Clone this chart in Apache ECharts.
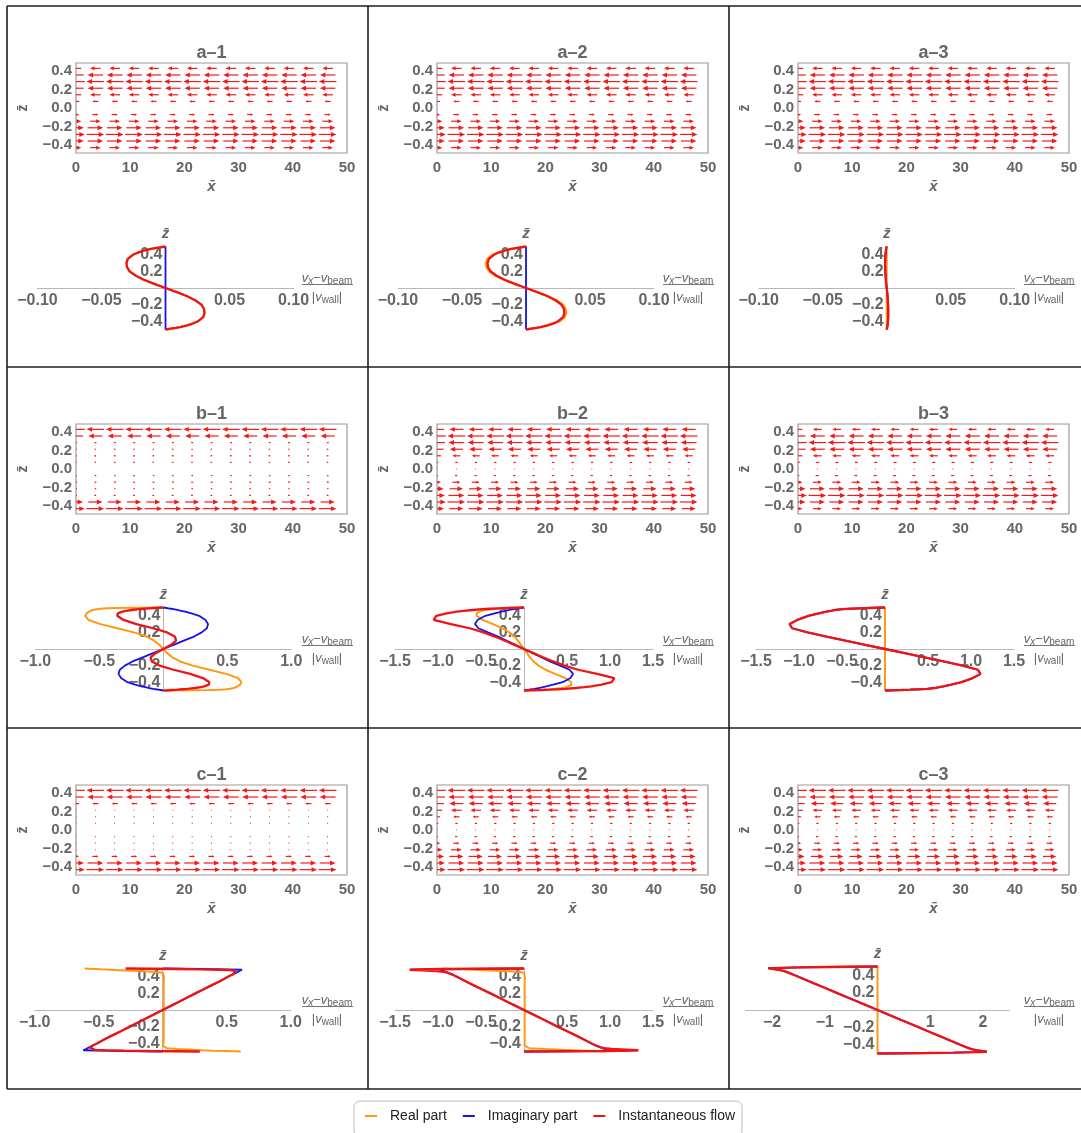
<!DOCTYPE html>
<html><head><meta charset="utf-8">
<script src="https://cdn.jsdelivr.net/npm/echarts@6/dist/echarts.min.js"></script>
<style>html,body{margin:0;padding:0;background:#fff}#chart{width:1081px;height:1133px}</style>
</head><body><div id="chart"></div>
<script>
// ---------------- DATA ----------------
const panelTitles = ['a–1','a–2','a–3','b–1','b–2','b–3','c–1','c–2','c–3'];
const seriesNames = ['Real part','Imaginary part','Instantaneous flow'];

// quiver (vector) plots: grid positions and signed relative flow per row
const quiverX = [0, 3.571, 7.143, 10.714, 14.286, 17.857, 21.429, 25, 28.571, 32.143, 35.714, 39.286, 42.857, 46.429];
const quiverZ = [0.5, 0.429, 0.357, 0.286, 0.214, 0.143, 0.071, 0, -0.071, -0.143, -0.214, -0.286, -0.357, -0.429, -0.5];
const quiverA1 = [0, -0.6, -0.88, -1.0, -0.88, -0.6, -0.35, 0, 0.35, 0.6, 0.88, 1.0, 0.88, 0.6, 0];
const quiverA2 = [0, -0.6, -0.88, -1.0, -0.88, -0.6, -0.35, 0, 0.35, 0.6, 0.88, 1.0, 0.88, 0.6, 0];
const quiverA3 = [0, -0.6, -0.88, -1.0, -0.88, -0.6, -0.35, 0, 0.35, 0.6, 0.88, 1.0, 0.88, 0.6, 0];
const quiverB1 = [0, -1.0, -0.8, -0.12, 0.1, 0.12, 0.1, 0, -0.1, -0.12, -0.1, 0.12, 0.8, 1.0, 0];
const quiverB2 = [0, -0.8, -1.0, -0.9, -0.75, -0.45, -0.15, 0.05, 0.15, 0.45, 0.75, 0.9, 1.0, 0.8, 0];
const quiverB3 = [0, -0.5, -0.85, -1.0, -0.85, -0.5, -0.2, 0.05, 0.2, 0.5, 0.85, 1.0, 0.85, 0.5, 0];
const quiverC1 = [0, -1.0, -0.9, -0.35, -0.05, -0.05, -0.05, 0, 0.05, 0.05, 0.05, 0.35, 0.9, 1.0, 0];
const quiverC2 = [0, -1.0, -0.9, -0.8, -0.6, -0.35, -0.15, 0.05, 0.15, 0.35, 0.6, 0.8, 0.9, 1.0, 0];
const quiverC3 = [0, -1.0, -0.9, -0.75, -0.55, -0.35, -0.15, 0.05, 0.15, 0.35, 0.55, 0.75, 0.9, 1.0, 0];

// profile plots: z positions and (v_x - v_beam)/|v_wall| values
const profileZ = [0.5, 0.497, 0.494, 0.49, 0.485, 0.48, 0.47, 0.46, 0.45, 0.43, 0.4, 0.35, 0.3, 0.25, 0.2, 0.15, 0.1, 0.05, 0,
  -0.05, -0.1, -0.15, -0.2, -0.25, -0.3, -0.35, -0.4, -0.43, -0.45, -0.46, -0.47, -0.48, -0.485, -0.49, -0.494, -0.497, -0.5];
const zeroProfile = [0,0,0,0,0,0,0,0,0,0,0,0,0,0,0,0,0,0,0,0,0,0,0,0,0,0,0,0,0,0,0,0,0,0,0,0,0];

const a1Real = [0, -0.0012, -0.0024, -0.004, -0.006, -0.008, -0.0115, -0.0145, -0.017, -0.021, -0.0255, -0.0295, -0.0305, -0.030, -0.028, -0.0235, -0.017, -0.0088, 0,
  0.0088, 0.017, 0.0235, 0.028, 0.030, 0.0305, 0.0295, 0.0255, 0.021, 0.017, 0.0145, 0.0115, 0.008, 0.006, 0.004, 0.0024, 0.0012, 0];
const a1Imag = zeroProfile;
const a1Inst = [0, -0.0012, -0.0024, -0.004, -0.006, -0.008, -0.0115, -0.0145, -0.017, -0.021, -0.0255, -0.0295, -0.0305, -0.030, -0.028, -0.0235, -0.017, -0.0088, 0,
  0.0088, 0.017, 0.0235, 0.028, 0.030, 0.0305, 0.0295, 0.0255, 0.021, 0.017, 0.0145, 0.0115, 0.008, 0.006, 0.004, 0.0024, 0.0012, 0];

const a2Real = [0, -0.0013, -0.0025, -0.0042, -0.0063, -0.0084, -0.012, -0.015, -0.0177, -0.022, -0.0266, -0.0305, -0.0315, -0.031, -0.029, -0.0245, -0.0177, -0.0092, 0,
  0.0092, 0.0177, 0.0245, 0.029, 0.031, 0.0315, 0.0305, 0.0266, 0.022, 0.0177, 0.015, 0.012, 0.0084, 0.0063, 0.0042, 0.0025, 0.0013, 0];
const a2Imag = zeroProfile;
const a2Inst = [0, -0.0012, -0.0024, -0.004, -0.006, -0.008, -0.0113, -0.0142, -0.0167, -0.0207, -0.0251, -0.029, -0.030, -0.0296, -0.0276, -0.0232, -0.0168, -0.0087, 0,
  0.0087, 0.0168, 0.0232, 0.0276, 0.0296, 0.030, 0.029, 0.0251, 0.0207, 0.0167, 0.0142, 0.0113, 0.008, 0.006, 0.004, 0.0024, 0.0012, 0];

const a3Real = zeroProfile;
const a3Imag = [0, 0, -0.0001, -0.0002, -0.0002, -0.0003, -0.0005, -0.0006, -0.0007, -0.0008, -0.001, -0.0012, -0.0012, -0.0012, -0.0011, -0.0009, -0.0007, -0.0004, 0,
  0.0004, 0.0007, 0.0009, 0.0011, 0.0012, 0.0012, 0.0012, 0.001, 0.0008, 0.0007, 0.0006, 0.0005, 0.0003, 0.0002, 0.0002, 0.0001, 0, 0];
const a3Inst = [0, 0, -0.0001, -0.0002, -0.0002, -0.0003, -0.0005, -0.0006, -0.0007, -0.0008, -0.001, -0.0012, -0.0012, -0.0012, -0.0011, -0.0009, -0.0007, -0.0004, 0,
  0.0004, 0.0007, 0.0009, 0.0011, 0.0012, 0.0012, 0.0012, 0.001, 0.0008, 0.0007, 0.0006, 0.0005, 0.0003, 0.0002, 0.0002, 0.0001, 0, 0];

const b1Real = [0, -0.25, -0.36, -0.44, -0.49, -0.52, -0.55, -0.57, -0.585, -0.60, -0.61, -0.585, -0.49, -0.36, -0.23, -0.13, -0.07, -0.03, 0,
  0.03, 0.07, 0.13, 0.23, 0.36, 0.49, 0.585, 0.61, 0.60, 0.585, 0.57, 0.55, 0.52, 0.49, 0.44, 0.36, 0.25, 0];
const b1Imag = [0, 0.012, 0.024, 0.04, 0.06, 0.08, 0.11, 0.14, 0.17, 0.22, 0.28, 0.33, 0.35, 0.34, 0.30, 0.24, 0.16, 0.08, 0,
  -0.08, -0.16, -0.24, -0.30, -0.34, -0.35, -0.33, -0.28, -0.22, -0.17, -0.14, -0.11, -0.08, -0.06, -0.04, -0.024, -0.012, 0];
const b1Inst = [0, -0.04, -0.07, -0.11, -0.15, -0.19, -0.25, -0.29, -0.32, -0.355, -0.36, -0.31, -0.21, -0.08, 0.03, 0.09, 0.10, 0.06, 0,
  -0.06, -0.10, -0.09, -0.03, 0.08, 0.21, 0.31, 0.36, 0.355, 0.32, 0.29, 0.25, 0.19, 0.15, 0.11, 0.07, 0.04, 0];

const b2Real = [0, -0.08, -0.15, -0.22, -0.3, -0.36, -0.44, -0.49, -0.52, -0.55, -0.55, -0.48, -0.36, -0.25, -0.17, -0.11, -0.07, -0.035, 0,
  0.035, 0.07, 0.11, 0.17, 0.25, 0.36, 0.48, 0.55, 0.55, 0.52, 0.49, 0.44, 0.36, 0.3, 0.22, 0.15, 0.08, 0];
const b2Imag = [0, -0.02, -0.04, -0.06, -0.09, -0.12, -0.17, -0.22, -0.26, -0.34, -0.45, -0.54, -0.57, -0.53, -0.42, -0.3, -0.2, -0.1, 0,
  0.1, 0.2, 0.3, 0.42, 0.53, 0.57, 0.54, 0.45, 0.34, 0.26, 0.22, 0.17, 0.12, 0.09, 0.06, 0.04, 0.02, 0];
const b2Inst = [0, -0.1, -0.2, -0.3, -0.4, -0.48, -0.6, -0.7, -0.78, -0.9, -1.02, -1.05, -0.85, -0.63, -0.47, -0.34, -0.22, -0.11, 0,
  0.11, 0.22, 0.34, 0.47, 0.63, 0.85, 1.05, 1.02, 0.9, 0.78, 0.7, 0.6, 0.48, 0.4, 0.3, 0.2, 0.1, 0];

const b3Real = zeroProfile;
const b3Imag = [0, -0.1, -0.19, -0.29, -0.4, -0.49, -0.58, -0.63, -0.68, -0.77, -0.89, -1.02, -1.11, -1.08, -0.9, -0.68, -0.46, -0.23, 0,
  0.23, 0.46, 0.68, 0.9, 1.08, 1.11, 1.02, 0.89, 0.77, 0.68, 0.63, 0.58, 0.49, 0.4, 0.29, 0.19, 0.1, 0];
const b3Inst = [0, -0.1, -0.19, -0.29, -0.4, -0.49, -0.58, -0.63, -0.68, -0.77, -0.89, -1.02, -1.11, -1.08, -0.9, -0.68, -0.46, -0.23, 0,
  0.23, 0.46, 0.68, 0.9, 1.08, 1.11, 1.02, 0.89, 0.77, 0.68, 0.63, 0.58, 0.49, 0.4, 0.29, 0.19, 0.1, 0];

const c1Real = [-0.61, -0.57, -0.53, -0.48, -0.41, -0.34, -0.2, -0.08, 0.0, 0.015, 0.01, 0.008, 0.008, 0.008, 0.008, 0.008, 0.008, 0.008, 0.008,
  0.008, 0.008, 0.008, 0.008, 0.008, 0.008, 0.008, 0.006, 0.0, -0.012, 0.03, 0.12, 0.24, 0.31, 0.4, 0.49, 0.56, 0.61];
const c1Imag = [0, 0.15, 0.3, 0.5, 0.62, 0.61, 0.6, 0.59, 0.575, 0.55, 0.51, 0.45, 0.385, 0.32, 0.256, 0.192, 0.128, 0.064, 0,
  -0.064, -0.128, -0.192, -0.256, -0.32, -0.385, -0.45, -0.51, -0.55, -0.575, -0.59, -0.6, -0.61, -0.62, -0.5, -0.3, -0.15, 0];
const c1Inst = [-0.29, -0.1, 0.1, 0.3, 0.45, 0.53, 0.57, 0.575, 0.57, 0.55, 0.51, 0.45, 0.385, 0.32, 0.256, 0.192, 0.128, 0.064, 0,
  -0.064, -0.128, -0.192, -0.256, -0.32, -0.385, -0.45, -0.51, -0.55, -0.57, -0.575, -0.57, -0.53, -0.45, -0.3, -0.1, 0.1, 0.29];

const c2Real = [-0.94, -0.88, -0.8, -0.7, -0.58, -0.46, -0.25, -0.06, 0.0, 0.012, 0.01, 0.008, 0.008, 0.008, 0.008, 0.008, 0.008, 0.008, 0.008,
  0.008, 0.008, 0.008, 0.008, 0.008, 0.008, 0.008, 0.008, 0.005, 0.0, 0.06, 0.25, 0.46, 0.58, 0.7, 0.8, 0.88, 0.94];
const c2Imag = [0, -0.4, -0.7, -0.9, -0.98, -1.0, -0.97, -0.92, -0.89, -0.84, -0.78, -0.685, -0.59, -0.49, -0.39, -0.295, -0.196, -0.098, 0,
  0.098, 0.196, 0.295, 0.39, 0.49, 0.59, 0.685, 0.78, 0.84, 0.89, 0.92, 0.97, 1.0, 0.98, 0.9, 0.7, 0.4, 0];
const c2Inst = [0, -0.55, -0.95, -1.3, -1.33, -1.25, -1.02, -0.93, -0.89, -0.84, -0.78, -0.685, -0.59, -0.49, -0.39, -0.295, -0.196, -0.098, 0,
  0.098, 0.196, 0.295, 0.39, 0.49, 0.59, 0.685, 0.78, 0.84, 0.89, 0.93, 1.02, 1.25, 1.33, 1.3, 0.95, 0.55, 0];

const c3Real = zeroProfile;
const c3Imag = [0, -0.5, -0.95, -1.45, -1.85, -2.07, -1.97, -1.87, -1.78, -1.69, -1.57, -1.375, -1.18, -0.98, -0.785, -0.59, -0.39, -0.196, 0,
  0.196, 0.39, 0.59, 0.785, 0.98, 1.18, 1.375, 1.57, 1.69, 1.78, 1.87, 1.97, 2.07, 1.85, 1.45, 0.95, 0.5, 0];
const c3Inst = [0, -0.5, -0.95, -1.45, -1.85, -2.07, -1.97, -1.87, -1.78, -1.69, -1.57, -1.375, -1.18, -0.98, -0.785, -0.59, -0.39, -0.196, 0,
  0.196, 0.39, 0.59, 0.785, 0.98, 1.18, 1.375, 1.57, 1.69, 1.78, 1.87, 1.97, 2.07, 1.85, 1.45, 0.95, 0.5, 0];

// tick labels
const quiverXTicks = [0, 10, 20, 30, 40, 50];
const quiverZTicks = [-0.4, -0.2, 0, 0.2, 0.4];
const profileZTicks = [-0.4, -0.2, 0.2, 0.4];
const ticksSmall = [-0.1, -0.05, 0.05, 0.1];
const ticksOne = [-1, -0.5, 0.5, 1];
const ticksOneHalf = [-1.5, -1, -0.5, 0.5, 1, 1.5];
const ticksTwo = [-2, -1, 1, 2];

// ---------------- LAYOUT / STYLE ----------------
const FONT = "'Liberation Sans', Arial, Helvetica, sans-serif";
const GRAY = '#666';
const COLORS = ['#ff9914', '#1414ea', '#ee1414'];
const WIDTHS = [2, 1.8, 2.3];
const ARROW_COLOR = '#f01c1c';
const ARROW_UNITS = 3.25; // x-units of the longest arrow

const panelData = [
  {quiver: quiverA1, curves: [a1Real, a1Imag, a1Inst], ticks: ticksSmall, dec: 2},
  {quiver: quiverA2, curves: [a2Real, a2Imag, a2Inst], ticks: ticksSmall, dec: 2},
  {quiver: quiverA3, curves: [a3Real, a3Imag, a3Inst], ticks: ticksSmall, dec: 2},
  {quiver: quiverB1, curves: [b1Real, b1Imag, b1Inst], ticks: ticksOne, dec: 1},
  {quiver: quiverB2, curves: [b2Real, b2Imag, b2Inst], ticks: ticksOneHalf, dec: 1},
  {quiver: quiverB3, curves: [b3Real, b3Imag, b3Inst], ticks: ticksOneHalf, dec: 1},
  {quiver: quiverC1, curves: [c1Real, c1Imag, c1Inst], ticks: ticksOne, dec: 1},
  {quiver: quiverC2, curves: [c2Real, c2Imag, c2Inst], ticks: ticksOneHalf, dec: 1},
  {quiver: quiverC3, curves: [c3Real, c3Imag, c3Inst], ticks: ticksTwo, dec: 0}
];
// profile layout: pixel of v=0 (relative to cell), axis range, px per unit, height
const profileLayout = [
  {axisX: 165.5, min: -0.1, max: 0.1, ppu: 1280, h: 83},
  {axisX: 165.0, min: -0.1, max: 0.1, ppu: 1280, h: 83},
  {axisX: 164.7, min: -0.1, max: 0.1, ppu: 1280, h: 83},
  {axisX: 163.3, min: -1, max: 1, ppu: 128, h: 83},
  {axisX: 163.0, min: -1.5, max: 1.5, ppu: 86, h: 83},
  {axisX: 163.0, min: -1.5, max: 1.5, ppu: 86, h: 83},
  {axisX: 162.7, min: -1, max: 1, ppu: 128, h: 83},
  {axisX: 163.0, min: -1.5, max: 1.5, ppu: 86, h: 83},
  {axisX: 155.5, min: -2.5, max: 2.5, ppu: 52.75, h: 87}
];

function fmt(v, dec) {
  return (v < 0 ? '\u2212' : '') + Math.abs(v).toFixed(dec);
}

function arrowItem(params, api) {
  const x = api.value(0), z = api.value(1), v = api.value(2);
  if (!v) return null;
  const half = v * ARROW_UNITS / 2;
  const a = api.coord([x - half, z]);
  const b = api.coord([x + half, z]);
  const len = Math.abs(b[0] - a[0]);
  const dir = b[0] >= a[0] ? 1 : -1;
  const hl = Math.min(5.5, len * 0.42);
  const hw = Math.max(hl * 0.45, 0.6);
  return {
    type: 'group',
    children: [
      {type: 'line', shape: {x1: a[0], y1: a[1], x2: b[0] - dir * hl * 0.5, y2: b[1]},
       style: {stroke: ARROW_COLOR, lineWidth: 1.2}},
      {type: 'polygon', shape: {points: [[b[0], b[1]], [b[0] - dir * hl, b[1] - hw], [b[0] - dir * hl, b[1] + hw]]},
       style: {fill: ARROW_COLOR}}
    ]
  };
}

const labelStyle = (size) => ({fontSize: size, fontWeight: 'bold', color: GRAY, fontFamily: FONT});

const option = {
  animation: false,
  backgroundColor: '#fff',
  grid: [], xAxis: [], yAxis: [], series: [], graphic: [],
  legend: {
    data: seriesNames, left: 354, top: 1101, orient: 'horizontal',
    icon: 'rect', itemWidth: 12, itemHeight: 2, itemGap: 16,
    padding: [8, 7, 14, 11], borderColor: '#bdbdbd', borderWidth: 1, borderRadius: 6,
    selectedMode: false,
    textStyle: {fontSize: 14, color: '#222', fontFamily: FONT, padding: [0, 0, 0, 8]}
  }
};

panelData.forEach((p, k) => {
  const col = k % 3, row = Math.floor(k / 3);
  const ox = 361 * col, oy = 361 * row;
  const L = profileLayout[k];

  // ---- quiver plot ----
  const gi = option.grid.length;
  option.grid.push({left: 76 + ox, top: 63 + oy, width: 271, height: 90, show: true,
    borderColor: '#9a9a9a', borderWidth: 1.2, backgroundColor: 'transparent'});
  option.xAxis.push({gridIndex: gi, type: 'value', min: 0, max: 50, interval: 10,
    axisLine: {show: false}, axisTick: {show: false}, splitLine: {show: false},
    axisLabel: Object.assign({margin: 7, customValues: quiverXTicks, showMinLabel: true, showMaxLabel: true}, labelStyle(15)),
    name: 'x\u0304', nameLocation: 'middle', nameGap: 26,
    nameTextStyle: {fontSize: 15, fontWeight: 'bold', fontStyle: 'italic', color: GRAY, fontFamily: FONT}});
  option.yAxis.push({gridIndex: gi, type: 'value', min: -0.487, max: 0.487,
    axisLine: {show: false}, axisTick: {show: false}, splitLine: {show: false},
    axisLabel: Object.assign({margin: 4, customValues: quiverZTicks, formatter: v => fmt(v, 1),
      showMinLabel: true, showMaxLabel: true}, labelStyle(15)),
    name: 'z\u0304', nameLocation: 'middle', nameRotate: 90, nameGap: 46,
    nameTextStyle: {fontSize: 14, fontWeight: 'bold', color: GRAY, fontFamily: FONT}});
  const qdata = [];
  quiverX.forEach(x => quiverZ.forEach((z, j) => qdata.push([x, z, p.quiver[j]])));
  option.series.push({type: 'custom', name: 'flow field', xAxisIndex: gi, yAxisIndex: gi,
    clip: true, silent: true, renderItem: arrowItem, data: qdata});

  // title
  option.graphic.push({type: 'text', x: 211.5 + ox, y: 53 + oy, silent: true,
    style: {text: panelTitles[k], align: 'center', verticalAlign: 'middle',
      font: 'bold 18px ' + FONT, fill: GRAY}});

  // ---- profile plot ----
  const pi = option.grid.length;
  const width = (L.max - L.min) * L.ppu;
  const left = L.axisX + L.min * L.ppu + ox;
  option.grid.push({left: left, top: 288 - L.h / 2 + oy, width: width, height: L.h, show: false});
  option.xAxis.push({gridIndex: pi, type: 'value', min: L.min, max: L.max, position: 'bottom',
    offset: -L.h / 2,
    axisLine: {onZero: false, lineStyle: {color: '#b8b8b8', width: 1}},
    axisTick: {show: false}, splitLine: {show: false},
    axisLabel: Object.assign({margin: 5, customValues: p.ticks, formatter: v => fmt(v, p.dec),
      showMinLabel: true, showMaxLabel: true}, labelStyle(16))});
  option.yAxis.push({gridIndex: pi, type: 'value', min: -0.5, max: 0.5, position: 'left',
    offset: L.min * L.ppu,
    axisLine: {onZero: false, lineStyle: {color: '#b8b8b8', width: 1}},
    axisTick: {show: false}, splitLine: {show: false},
    axisLabel: Object.assign({margin: 3, customValues: profileZTicks, formatter: v => fmt(v, 1),
      showMinLabel: true, showMaxLabel: true}, labelStyle(16)),
    name: 'z\u0304', nameLocation: 'end', nameGap: 5,
    nameTextStyle: {fontSize: 15, fontWeight: 'bold', fontStyle: 'italic', color: GRAY, fontFamily: FONT}});
  p.curves.forEach((vals, s) => {
    option.series.push({type: 'line', name: seriesNames[s], xAxisIndex: pi, yAxisIndex: pi,
      data: profileZ.map((z, i) => [vals[i], z]),
      showSymbol: false, symbol: 'none', clip: false, silent: true, z: 3 + s,
      lineStyle: {width: WIDTHS[s], color: COLORS[s]}, itemStyle: {color: COLORS[s]}});
  });

  // axis label fraction (v_x - v_beam) / |v_wall|
  const rich = {
    i: {fontSize: 13, fontStyle: 'italic', fill: GRAY, fontFamily: FONT},
    s: {fontSize: 10, fill: GRAY, fontFamily: FONT, padding: [7, 0, 0, 0]},
    si: {fontSize: 10, fontStyle: 'italic', fill: GRAY, fontFamily: FONT, padding: [7, 0, 0, 0]},
    n: {fontSize: 13, fill: GRAY, fontFamily: FONT}
  };
  option.graphic.push({type: 'text', x: 327 + ox, y: 278 + oy, silent: true,
    style: {text: '{i|v}{si|x}{n|\u2212}{i|v}{s|beam}', rich: rich, align: 'center', verticalAlign: 'middle'}});
  option.graphic.push({type: 'line', silent: true,
    shape: {x1: 302 + ox, y1: 284.5 + oy, x2: 353 + ox, y2: 284.5 + oy},
    style: {stroke: '#777', lineWidth: 1}});
  option.graphic.push({type: 'text', x: 327 + ox, y: 297 + oy, silent: true,
    style: {text: '{n||}{i|v}{s|wall}{n||}', rich: rich, align: 'center', verticalAlign: 'middle'}});
});

// table borders
const borderH = [6, 367, 728, 1089];
const borderV = [7, 368, 729];
borderH.forEach(y => option.graphic.push({type: 'line', silent: true,
  shape: {x1: 7, y1: y, x2: 1081, y2: y}, style: {stroke: '#1e1e1e', lineWidth: 1.6}}));
borderV.forEach(x => option.graphic.push({type: 'line', silent: true,
  shape: {x1: x, y1: 6, x2: x, y2: 1089}, style: {stroke: '#1e1e1e', lineWidth: 1.6}}));

const chart = echarts.init(document.getElementById('chart'), null, {renderer: 'canvas'});
chart.setOption(option);
</script></body></html>
